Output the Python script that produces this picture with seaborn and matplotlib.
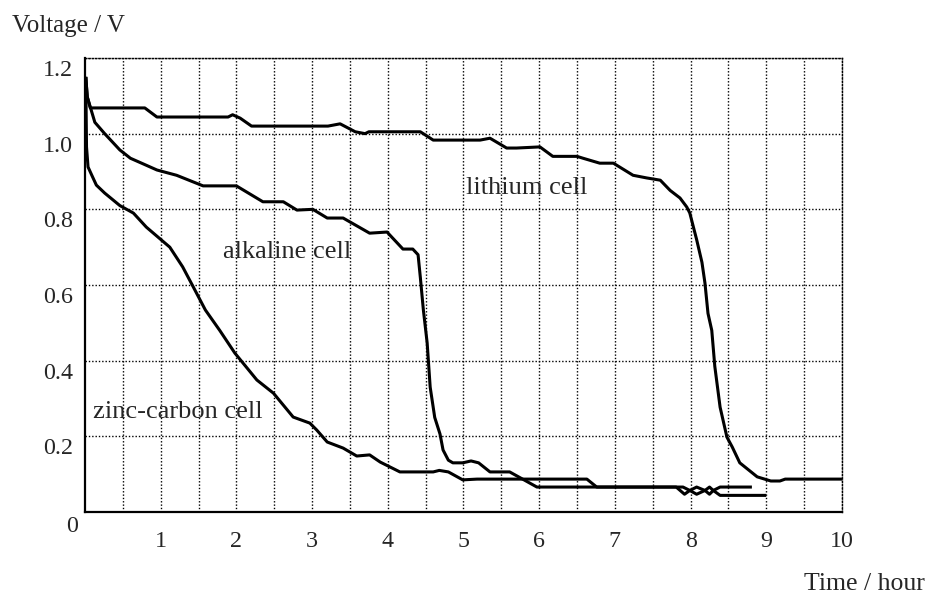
import seaborn as sns
import pandas as pd
import matplotlib.pyplot as plt
import numpy as np
from matplotlib.transforms import ScaledTranslation, offset_copy

# discharge curves (time in hours, voltage in V)
lithium_t = [0.01, 0.03, 0.07, 0.79, 0.95, 1.89, 1.95, 2.05, 2.2, 3.21, 3.37, 3.57, 3.7, 3.75,
             4.43, 4.6, 5.22, 5.35, 5.57, 5.7, 6.01, 6.18, 6.5, 6.58, 6.8, 6.98, 7.24, 7.42,
             7.6, 7.73, 7.86, 7.95, 7.99, 8.08, 8.15, 8.19, 8.23, 8.28, 8.32, 8.39, 8.48,
             8.55, 8.65, 8.88, 9.06, 9.18, 9.25, 10.0]
lithium_v = [1.15, 1.097, 1.068, 1.068, 1.044, 1.044, 1.05, 1.041, 1.02, 1.02, 1.026, 1.005, 1.0, 1.005,
             1.005, 0.983, 0.983, 0.988, 0.962, 0.962, 0.965, 0.94, 0.94, 0.935, 0.922, 0.922, 0.89, 0.883,
             0.877, 0.85, 0.83, 0.806, 0.79, 0.72, 0.66, 0.605, 0.525, 0.48, 0.385, 0.277, 0.198,
             0.172, 0.13, 0.093, 0.082, 0.082, 0.087, 0.087]

alkaline_t = [0.01, 0.03, 0.13, 0.26, 0.46, 0.6, 0.77, 0.95, 1.21, 1.56, 2.0, 2.35, 2.62, 2.8,
              3.01, 3.2, 3.41, 3.76, 3.99, 4.2, 4.33, 4.4, 4.43, 4.47, 4.52, 4.56, 4.62, 4.69,
              4.73, 4.8, 4.86, 4.99, 5.1, 5.2, 5.35, 5.61, 5.97, 7.9, 7.99, 8.08, 8.19, 8.25,
              8.3, 8.39, 9.0]
alkaline_v = [1.15, 1.097, 1.03, 1.0, 0.957, 0.935, 0.92, 0.904, 0.89, 0.862, 0.862, 0.82, 0.82, 0.798,
              0.80, 0.777, 0.777, 0.737, 0.74, 0.695, 0.695, 0.68, 0.62, 0.534, 0.447, 0.33, 0.25, 0.206,
              0.164, 0.137, 0.13, 0.13, 0.135, 0.13, 0.106, 0.106, 0.066, 0.066, 0.057, 0.047, 0.057, 0.066,
              0.057, 0.044, 0.044]

zinc_t = [0.01, 0.02, 0.04, 0.09, 0.15, 0.26, 0.46, 0.64, 0.81, 1.12, 1.29, 1.43, 1.59, 1.78,
          1.98, 2.27, 2.49, 2.75, 2.97, 3.06, 3.2, 3.41, 3.59, 3.76, 3.9, 4.16, 4.6, 4.68,
          4.8, 4.99, 5.18, 6.63, 6.76, 7.81, 7.92, 7.99, 8.08, 8.19, 8.25, 8.3, 8.39, 8.81]
zinc_v = [1.15, 0.965, 0.912, 0.89, 0.864, 0.843, 0.81, 0.79, 0.753, 0.70, 0.648, 0.595, 0.534, 0.48,
          0.42, 0.349, 0.314, 0.251, 0.235, 0.217, 0.185, 0.169, 0.148, 0.151, 0.132, 0.106, 0.106, 0.11,
          0.106, 0.085, 0.087, 0.087, 0.066, 0.066, 0.047, 0.057, 0.066, 0.057, 0.047, 0.057, 0.066, 0.066]

x_ticks = [1, 2, 3, 4, 5, 6, 7, 8, 9, 10]
y_ticks = [0.2, 0.4, 0.6, 0.8, 1.0, 1.2]
y_labels = ["0.2", "0.4", "0.6", "0.8", "1.0", "1.2"]

sns.set_style("white")
plt.rcParams['font.family'] = ['Liberation Serif', 'DejaVu Serif']

fig = plt.figure(figsize=(9.28, 5.96), dpi=100)
ax = fig.add_axes([0.0916, 0.1409, 0.8157, 0.7618])

for t, v in [(lithium_t, lithium_v), (alkaline_t, alkaline_v), (zinc_t, zinc_v)]:
    df = pd.DataFrame({"t": t, "v": v})
    sns.lineplot(data=df, x="t", y="v", ax=ax, color="black", lw=2.2,
                 estimator=None, sort=False, zorder=3,
                 solid_joinstyle="round", solid_capstyle="butt")

ax.set_xlim(0, 10)
ax.set_ylim(0, 1.2)
ax.set_xlabel("")
ax.set_ylabel("")

ax.set_xticks(x_ticks)
ax.set_xticklabels([str(x) for x in x_ticks], fontsize=17.3)
ax.set_xticks(np.arange(0.5, 10, 0.5), minor=True)
ax.set_yticks(y_ticks)
ax.set_yticklabels(y_labels, fontsize=17.3)
ax.tick_params(axis="both", which="both", length=0)
ax.tick_params(axis="x", pad=14)
ax.tick_params(axis="y", pad=8.5)
for lab in ax.get_yticklabels():
    lab.set_transform(lab.get_transform() + ScaledTranslation(0, -0.10, fig.dpi_scale_trans))

grid_style = dict(color="black", lw=1.0, linestyle=(0, (1, 1.4)))
ax.grid(True, which="both", axis="x", **grid_style)
ax.grid(True, which="major", axis="y", **grid_style)

for side in ["left", "bottom"]:
    ax.spines[side].set_color("black")
    ax.spines[side].set_linewidth(1.6)
for side in ["top", "right"]:
    ax.spines[side].set_color("black")
    ax.spines[side].set_linewidth(1.0)
    ax.spines[side].set_linestyle((0, (1, 1.4)))

# the "0" sits apart from the other x labels
ax.text(0, 0, "0", fontsize=17.3, ha="center", va="center",
        transform=offset_copy(ax.transData, fig=fig, x=-13, y=-14, units="dots"))

ax.text(5.83, 0.857, "lithium cell", fontsize=19, ha="center", va="center")
ax.text(2.67, 0.687, "alkaline cell", fontsize=19, ha="center", va="center")
ax.text(1.23, 0.264, "zinc-carbon cell", fontsize=19, ha="center", va="center")

fig.text(12 / 928, 1 - 26 / 596, "Voltage / V", fontsize=18, ha="left", va="center")
fig.text(925 / 928, 1 - 584 / 596, "Time / hour", fontsize=18.5, ha="right", va="center")

fig.savefig("out.png", dpi=100)
